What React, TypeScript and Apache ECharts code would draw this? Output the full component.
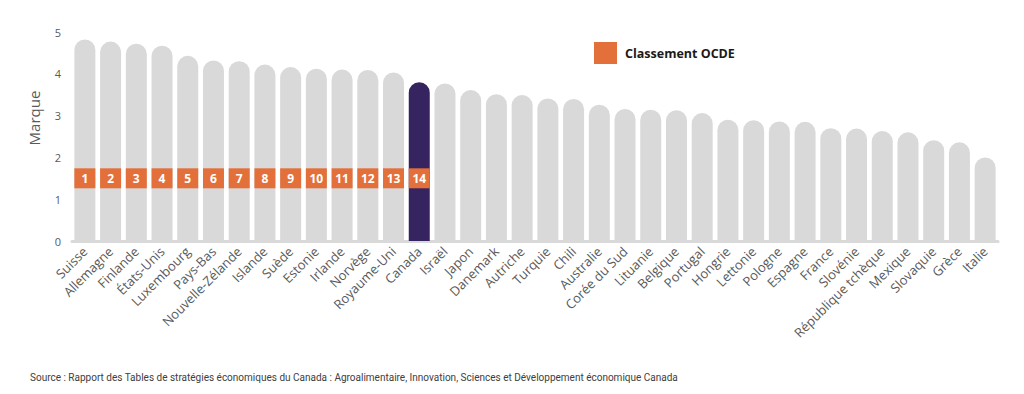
import React, { useEffect, useRef } from "react";
import * as echarts from "echarts";

const countries = [
  "Suisse", "Allemagne", "Finlande", "États-Unis", "Luxembourg", "Pays-Bas",
  "Nouvelle-Zélande", "Islande", "Suède", "Estonie", "Irlande", "Norvège",
  "Royaume-Uni", "Canada", "Israël", "Japon", "Danemark", "Autriche", "Turquie",
  "Chili", "Australie", "Corée du Sud", "Lituanie", "Belgique", "Portugal",
  "Hongrie", "Lettonie", "Pologne", "Espagne", "France", "Slovénie",
  "République tchèque", "Mexique", "Slovaquie", "Grèce", "Italie",
];

const scores = [
  4.82, 4.77, 4.72, 4.67, 4.43, 4.32, 4.3, 4.22, 4.16, 4.12, 4.1, 4.09, 4.03,
  3.8, 3.77, 3.61, 3.51, 3.49, 3.41, 3.4, 3.26, 3.16, 3.14, 3.13, 3.06, 2.9,
  2.89, 2.86, 2.85, 2.7, 2.69, 2.63, 2.6, 2.41, 2.36, 2.0,
];

const ranks = [1, 2, 3, 4, 5, 6, 7, 8, 9, 10, 11, 12, 13, 14];
const rankLevel = 1.5;
const yTicks = [0, 1, 2, 3, 4, 5];

const highlight = "Canada";
const sourceText =
  "Source : Rapport des Tables de stratégies économiques du Canada : Agroalimentaire, Innovation, Sciences et Développement économique Canada";

export default function App() {
  const ref = useRef<HTMLDivElement>(null);

  useEffect(() => {
    if (!ref.current) return;
    const chart = echarts.init(ref.current, null, { renderer: "svg" });
    const font = "'Open Sans', sans-serif";
    chart.setOption({
      animation: false,
      backgroundColor: "#ffffff",
      textStyle: { fontFamily: font },
      grid: { left: 72, right: 26, top: 32, bottom: 153 },
      legend: {
        left: 594,
        top: 42,
        padding: 0,
        itemWidth: 23,
        itemHeight: 22,
        itemGap: 10,
        icon: "rect",
        data: ["Classement OCDE"],
        textStyle: { fontSize: 12.5, fontWeight: "bold", color: "#1a1a1a", fontFamily: font, padding: [0, 0, 0, 3] },
      },
      xAxis: {
        type: "category",
        data: countries,
        axisLine: { lineStyle: { color: "#d9d9d9", width: 3 } },
        axisTick: { show: false },
        axisLabel: {
          rotate: 45,
          interval: 0,
          fontSize: 13,
          color: "#595959",
          margin: 8,
          fontFamily: font,
        },
      },
      yAxis: {
        type: "value",
        min: 0,
        max: 5,
        interval: 1,
        axisLine: { show: false },
        axisTick: { show: false },
        splitLine: { show: false },
        axisLabel: {
          fontSize: 11,
          color: "#595959",
          margin: 11,
          fontFamily: font,
          formatter: (v: number) => (yTicks.includes(v) ? String(v) : ""),
        },
      },
      graphic: [
        {
          type: "text",
          x: 34,
          y: 118,
          rotation: Math.PI / 2,
          style: {
            text: "Marque",
            fontSize: 15,
            fill: "#595959",
            fontFamily: font,
            align: "center",
            verticalAlign: "middle",
          },
        },
        {
          type: "text",
          left: 30,
          top: 372,
          style: {
            text: sourceText,
            fontSize: 10,
            fill: "#404040",
            fontFamily: "'Roboto', sans-serif",
          },
        },
      ],
      series: [
        {
          type: "bar",
          name: "Marque",
          barWidth: 21,
          data: scores.map((v, i) => ({
            value: v,
            itemStyle: {
              color: countries[i] === highlight ? "#35245f" : "#d9d9d9",
              borderRadius: [10.5, 10.5, 0, 0],
            },
          })),
          z: 2,
        },
        {
          type: "scatter",
          name: "Classement OCDE",
          symbol: "rect",
          symbolSize: [21, 20],
          itemStyle: { color: "#e3703a", opacity: 1 },
          data: ranks.map((r, i) => ({ value: [countries[i], rankLevel], rank: r })),
          label: {
            show: true,
            position: "inside",
            formatter: (p: any) => String(ranks[p.dataIndex]),
            color: "#ffffff",
            fontWeight: "bold",
            fontSize: 12,
            fontFamily: font,
          },
          z: 3,
        },
      ],
    });
    return () => chart.dispose();
  }, []);

  return (
    <div
      ref={ref}
      style={{ position: "fixed", left: 0, top: 0, width: 1024, height: 394 }}
    />
  );
}
